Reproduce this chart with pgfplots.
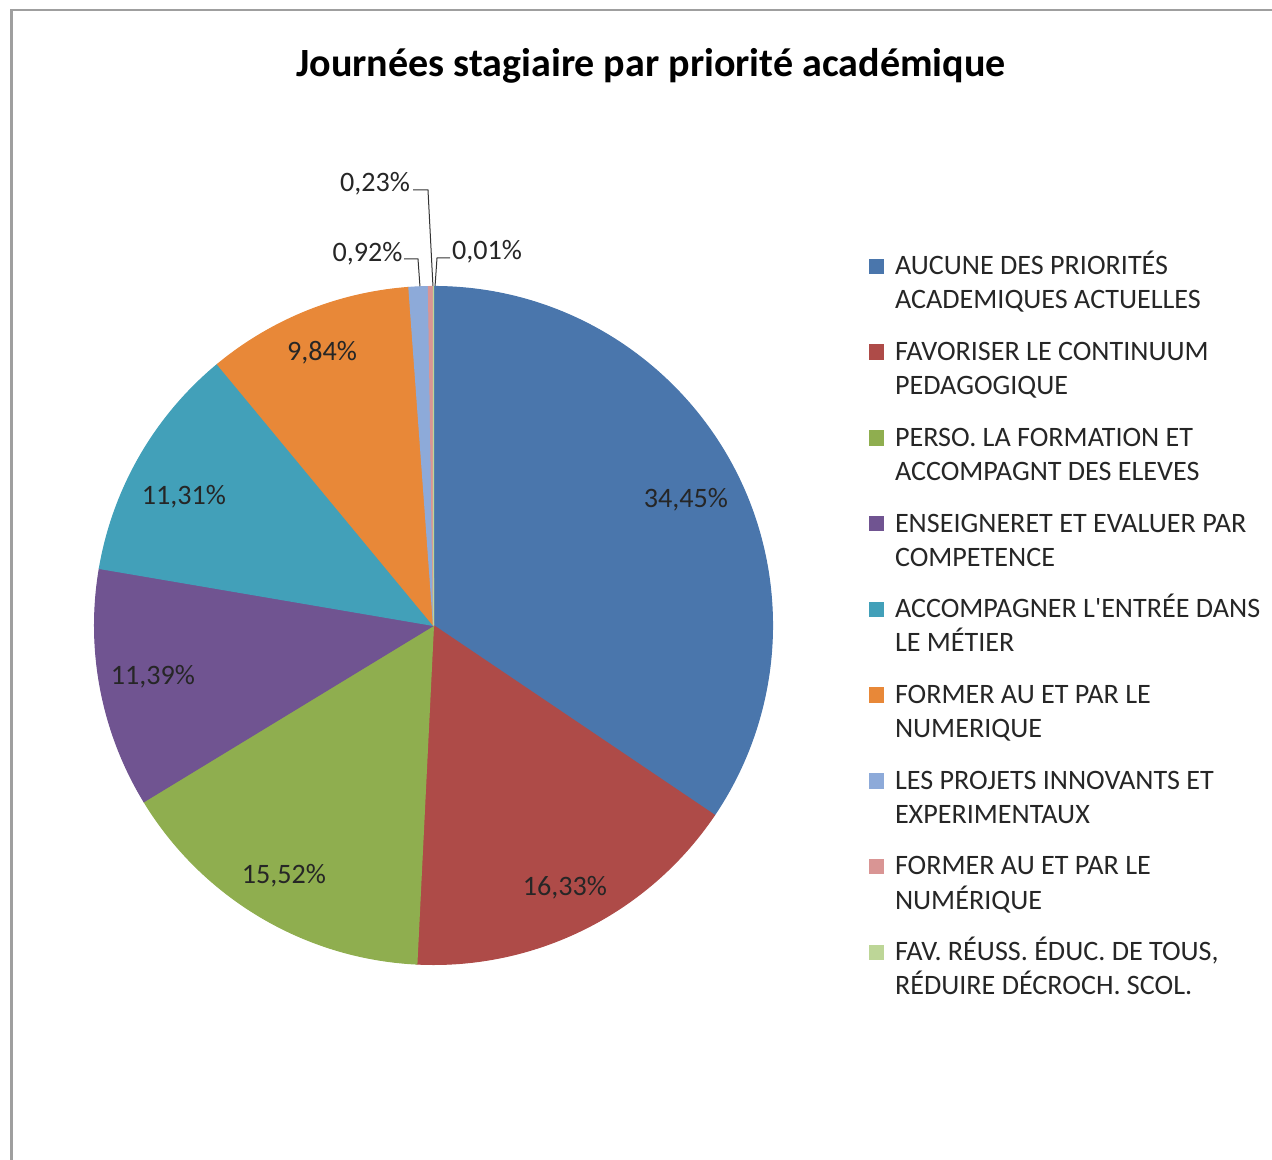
\documentclass[border=0pt]{standalone}
\usepackage{fontspec}
\setmainfont{Carlito}
\usepackage{pgfplots}
\usepackage{pgfplotstable}
\pgfplotsset{compat=1.18}

\definecolor{c0}{HTML}{4A76AC}
\definecolor{c1}{HTML}{AE4B48}
\definecolor{c2}{HTML}{8FAE4F}
\definecolor{c3}{HTML}{705491}
\definecolor{c4}{HTML}{42A0B9}
\definecolor{c5}{HTML}{E88838}
\definecolor{c6}{HTML}{8DAAD9}
\definecolor{c7}{HTML}{D99594}
\definecolor{c8}{HTML}{BDD697}

\tikzset{lbl/.style={font=\fontsize{8}{9.7}\selectfont, text=black!85, anchor=base}}

% pie centre in pixel coords (y up), pct and cumulated pct of each slice
\pgfplotstableread{
x     y     idx pct   cum
433.5 534.5 0   34.45 0
433.5 534.5 1   16.33 34.45
433.5 534.5 2   15.52 50.78
433.5 534.5 3   11.39 66.30
433.5 534.5 4   11.31 77.69
433.5 534.5 5   9.84  89.00
433.5 534.5 6   0.92  98.84
433.5 534.5 7   0.23  99.76
433.5 534.5 8   0.01  99.99
}\slices

% one slice, clockwise from 12 o'clock
\pgfdeclareplotmark{pieslice}{%
  \pgfmathtruncatemacro\cidx{\ci}%
  \pgfsetfillcolor{c\cidx}\pgfsetstrokecolor{c\cidx}%
  \pgfmathsetmacro\sa{90-3.6*\cum}%
  \pgfmathsetmacro\ea{90-3.6*(\cum+\pct)}%
  \pgfpathmoveto{\pgfpointorigin}%
  \pgfpathlineto{\pgfpointpolar{\sa}{3.39cm}}%
  \pgfpatharc{\sa}{\ea}{3.39cm}%
  \pgfpathclose
  \pgfsetlinewidth{0.3pt}%
  \pgfusepathqfillstroke
}

\begin{document}
\begin{tikzpicture}
\begin{axis}[
  scale only axis, width=12.72cm, height=11.6cm,
  xmin=0, xmax=1272, ymin=0, ymax=1160,
  hide axis, clip=false, set layers,
  legend style={at={(axis description cs:0.6832,0.7836)}, anchor=north west,
    draw=none, fill=none, inner sep=0pt, outer sep=0pt, row sep=6.4pt,
    column sep=0pt,
    font=\fontsize{8}{9.7}\selectfont, text=black!85,
    nodes={inner sep=0pt, outer sep=0pt, align=left, anchor=north west}},
  legend image code/.code={%
    \path[draw=none, fill=none] (0,0) -- (0.26cm,0);
    \path[#1, draw=none] (0pt,-6.6pt) rectangle (4.4pt,-2.2pt);},
]
\draw[gray!75, line width=0.02cm] (11.5,-30) -- (11.5,1149.5) -- (1300,1149.5);

\addplot[only marks, mark=pieslice,
  visualization depends on={\thisrow{idx}\as\ci},
  visualization depends on={\thisrow{pct}\as\pct},
  visualization depends on={\thisrow{cum}\as\cum},
  forget plot]
  table[x=x, y=y]{\slices};

% leader lines of the small slices
\addplot[black!80, line width=0.01cm, forget plot] coordinates {(413,970) (428,970) (433,873)};
\addplot[black!80, line width=0.01cm, forget plot] coordinates {(404,901) (418,901) (420,873)};
\addplot[black!80, line width=0.01cm, forget plot] coordinates {(450,902) (437,902) (435,873)};

\begin{pgfonlayer}{axis foreground}
\node[lbl] at (axis cs:686,652) {34,45\%};
\node[lbl] at (axis cs:565,264) {16,33\%};
\node[lbl] at (axis cs:284,276) {15,52\%};
\node[lbl] at (axis cs:153,475) {11,39\%};
\node[lbl] at (axis cs:184,655) {11,31\%};
\node[lbl] at (axis cs:322,799) {9,84\%};
\node[lbl] at (axis cs:367.5,898) {0,92\%};
\node[lbl] at (axis cs:375,968) {0,23\%};
\node[lbl] at (axis cs:487,900) {0,01\%};
\end{pgfonlayer}

\node[anchor=base, font=\bfseries\fontsize{11.4}{13}\selectfont]
  at (axis cs:651,1083) {Journées stagiaire par priorité académique};

\addlegendimage{fill=c0}\addlegendentry{\strut AUCUNE DES PRIORITÉS\\ACADEMIQUES ACTUELLES\strut}
\addlegendimage{fill=c1}\addlegendentry{\strut FAVORISER LE CONTINUUM\\PEDAGOGIQUE\strut}
\addlegendimage{fill=c2}\addlegendentry{\strut PERSO. LA FORMATION ET\\ACCOMPAGNT DES ELEVES\strut}
\addlegendimage{fill=c3}\addlegendentry{\strut ENSEIGNERET ET EVALUER PAR\\COMPETENCE\strut}
\addlegendimage{fill=c4}\addlegendentry{\strut ACCOMPAGNER L\textquotesingle ENTRÉE DANS\\LE MÉTIER\strut}
\addlegendimage{fill=c5}\addlegendentry{\strut FORMER AU ET PAR LE\\NUMERIQUE\strut}
\addlegendimage{fill=c6}\addlegendentry{\strut LES PROJETS INNOVANTS ET\\EXPERIMENTAUX\strut}
\addlegendimage{fill=c7}\addlegendentry{\strut FORMER AU ET PAR LE\\NUMÉRIQUE\strut}
\addlegendimage{fill=c8}\addlegendentry{\strut FAV. RÉUSS. ÉDUC. DE TOUS,\\RÉDUIRE DÉCROCH. SCOL.\strut}
\end{axis}
\pgfresetboundingbox
\useasboundingbox (0,0) rectangle (12.72cm,11.6cm);
\end{tikzpicture}
\end{document}
